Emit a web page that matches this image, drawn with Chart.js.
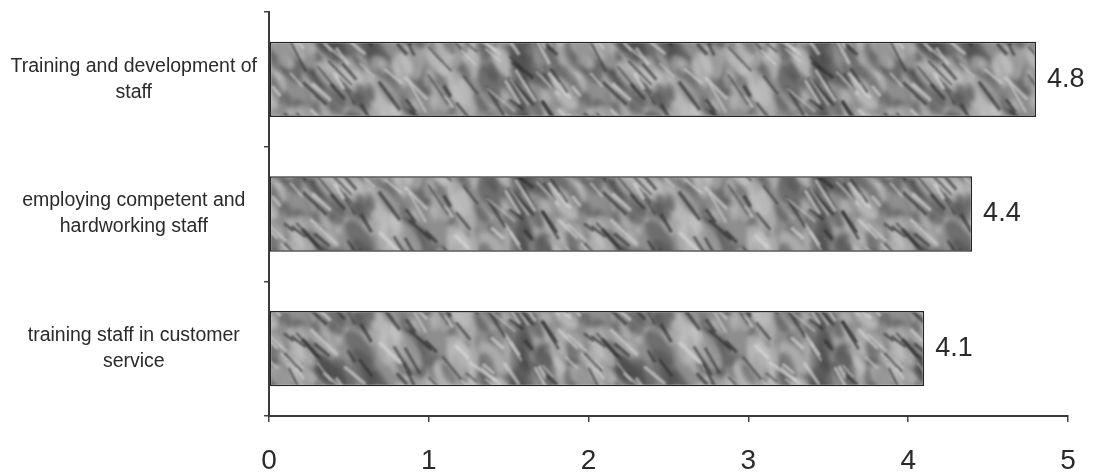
<!DOCTYPE html>
<html>
<head>
<meta charset="utf-8">
<script src="https://cdn.jsdelivr.net/npm/chart.js@4.4.0/dist/chart.umd.min.js"></script>
<style>
html,body{margin:0;padding:0;background:#fff;}
#wrap{width:1115px;height:474px;position:relative;}
</style>
</head>
<body>
<div id="wrap"><canvas id="c" width="1115" height="474"></canvas></div>
<script>
const categories = [
  ["Training and development of", "staff"],
  ["employing competent and", "hardworking staff"],
  ["training staff in customer", "service"]
];
const values = [4.8, 4.4, 4.1];
const valueLabels = ["4.8", "4.4", "4.1"];
const xTicks = [0, 1, 2, 3, 4, 5];

// deterministic crumpled-paper-like texture
function makeTexture() {
  const w = 300, h = 110;
  const c = document.createElement('canvas');
  c.width = w; c.height = h;
  const g = c.getContext('2d');
  g.fillStyle = '#8e8e8e';
  g.fillRect(0, 0, w, h);
  function hsh(n) { const s = Math.sin(n * 127.1 + 311.7) * 43758.5453; return s - Math.floor(s); }
  function wrapDraw(fn) {
    for (let dx = -w; dx <= w; dx += w) for (let dy = -h; dy <= h; dy += h) fn(dx, dy);
  }
  g.filter = 'blur(2px)';
  for (let i = 0; i < 180; i++) {
    const x = hsh(i) * w, y = hsh(i + 1000) * h;
    const r = 4 + hsh(i + 2000) * 12;
    const light = hsh(i + 4000) > 0.5;
    g.fillStyle = light ? 'rgba(195,195,195,0.55)' : 'rgba(70,70,70,0.45)';
    wrapDraw((dx, dy) => {
      g.beginPath();
      g.ellipse(x + dx, y + dy, r * 1.6, r * 0.7, 0.8 + hsh(i + 6000) * 0.6, 0, Math.PI * 2);
      g.fill();
    });
  }
  g.filter = 'blur(1.2px)';
  for (let i = 0; i < 85; i++) {
    const x = hsh(i + 7000) * w, y = hsh(i + 8000) * h;
    const len = 12 + hsh(i + 9000) * 26;
    const ang = 0.6 + hsh(i + 10000) * 0.5;
    const light = hsh(i + 11000) > 0.5;
    g.strokeStyle = light ? 'rgba(215,215,215,0.7)' : 'rgba(45,45,45,0.7)';
    g.lineWidth = 1.5 + hsh(i + 12000) * 2;
    wrapDraw((dx, dy) => {
      g.beginPath();
      g.moveTo(x + dx, y + dy);
      g.lineTo(x + dx + Math.cos(ang) * len, y + dy + Math.sin(ang) * len);
      g.stroke();
    });
  }
  return g.createPattern(c, 'repeat');
}

const FONT = '"Liberation Sans", Arial, sans-serif';

const valuePlugin = {
  id: 'valueLabels',
  afterDatasetsDraw(chart) {
    const ctx = chart.ctx;
    const meta = chart.getDatasetMeta(0);
    ctx.save();
    ctx.font = '27px ' + FONT;
    ctx.fillStyle = '#2a2a2a';
    ctx.textAlign = 'left';
    ctx.textBaseline = 'middle';
    meta.data.forEach((bar, i) => {
      ctx.fillText(valueLabels[i], bar.x + 11, bar.y);
    });
    ctx.restore();
  }
};

new Chart(document.getElementById('c'), {
  type: 'bar',
  data: {
    labels: categories,
    datasets: [{
      data: values,
      backgroundColor: makeTexture(),
      borderColor: '#252525',
      borderWidth: 1.5,
      borderSkipped: false,
      barPercentage: 0.56,
      categoryPercentage: 1.0
    }]
  },
  options: {
    indexAxis: 'y',
    responsive: false,
    animation: false,
    layout: { padding: { top: 12, right: 47, left: 0, bottom: 0 } },
    plugins: { legend: { display: false }, tooltip: { enabled: false } },
    scales: {
      x: {
        min: 0, max: 5,
        afterBuildTicks(axis) { axis.ticks = xTicks.map(v => ({ value: v })); },
        afterFit(axis) { axis.height = 58; axis.paddingLeft = 0; axis.paddingRight = 0; },
        grid: { drawOnChartArea: false, drawTicks: true, tickLength: 6, color: '#444', lineWidth: 1.5 },
        border: { color: '#3a3a3a', width: 2 },
        ticks: { color: '#2a2a2a', font: { family: FONT, size: 28 }, padding: 22 }
      },
      y: {
        afterFit(axis) { axis.width = 269; axis.paddingTop = 0; axis.paddingBottom = 0; },
        grid: { offset: true, drawOnChartArea: false, drawTicks: true, tickLength: 5, color: '#444', lineWidth: 1.5 },
        border: { color: '#3a3a3a', width: 2 },
        ticks: { color: '#2a2a2a', font: { family: FONT, size: 19.5, lineHeight: 1.33 }, padding: 7, crossAlign: 'center' }
      }
    }
  },
  plugins: [valuePlugin]
});
</script>
</body>
</html>
